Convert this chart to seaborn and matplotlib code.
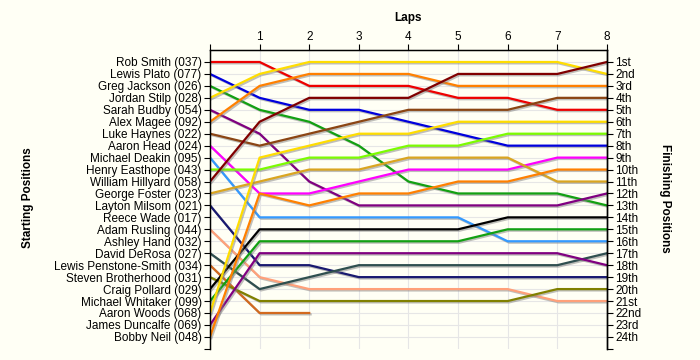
import pandas as pd
import numpy as np
import matplotlib
matplotlib.use("Agg")
import matplotlib.pyplot as plt
import matplotlib.patheffects as pe
import seaborn as sns

# --- data ---
drivers = ["Rob Smith", "Lewis Plato", "Greg Jackson", "Jordan Stilp", "Sarah Budby",
           "Alex Magee", "Luke Haynes", "Aaron Head", "Michael Deakin", "Henry Easthope",
           "William Hillyard", "George Foster", "Layton Milsom", "Reece Wade", "Adam Rusling",
           "Ashley Hand", "David DeRosa", "Lewis Penstone-Smith", "Steven Brotherhood",
           "Craig Pollard", "Michael Whitaker", "Aaron Woods", "James Duncalfe", "Bobby Neil"]
car_numbers = ["037", "077", "026", "028", "054", "092", "022", "024", "095", "043", "058", "023",
               "021", "017", "044", "032", "027", "034", "031", "029", "099", "068", "069", "048"]
colors = ["#EE0000", "#0000DD", "#12A012", "#FFDD00", "#800080", "#FF8000", "#8B4513", "#FF00FF",
          "#3399FF", "#7CFC00", "#800000", "#DAA520", "#191970", "#000000", "#FFA07A", "#000000",
          "#2F4F4F", "#D2691E", "#808000", "#000000", "#12A012", "#FFDD00", "#800080", "#FF8000"]

N = None
# position of each driver (same order as drivers) at the end of each lap
lap0 = [1, 2, 3, 4, 5, 6, 7, 8, 9, 10, 11, 12, 13, N, 15, N, 17, 18, 19, 20, 21, 22, 23, 24]
lap1 = [1, 4, 5, 2, 7, 3, 8, 12, 14, 10, 6, 11, 18, N, 19, N, 20, 22, 21, 15, 16, 9, 17, 12]
lap2 = [3, 5, 6, 1, 11, 2, 7, 12, 14, 9, 4, 10, 18, N, 20, N, 19, 22, 21, 15, 16, 8, 17, 13]
lap3 = [3, 5, 8, 1, 13, 2, 6, 11, 14, 9, 4, 10, 19, N, 20, N, 18, N, 21, 15, 16, 7, 17, 12]
lap4 = [3, 6, 11, 1, 13, 2, 5, 10, 14, 8, 4, 9, 19, N, 20, N, 18, N, 21, 15, 16, 7, 17, 12]
lap5 = [4, 7, 12, 1, 13, 3, 5, 10, 14, 8, 2, 9, 19, N, 20, N, 18, N, 21, 15, 16, 6, 17, 11]
lap6 = [4, 8, 12, 1, 13, 3, 5, 10, 16, 7, 2, 9, 19, N, 20, N, 18, N, 21, 14, 15, 6, 17, 11]
lap7 = [5, 8, 12, 1, 13, 3, 4, 9, 16, 7, 2, 11, 19, N, 21, N, 18, N, 20, 14, 15, 6, 17, 10]
lap8 = [5, 8, 13, 2, 12, 3, 4, 9, 16, 7, 1, 11, 19, N, 21, N, 17, N, 20, 14, 15, 6, 18, 10]
laps = [lap0, lap1, lap2, lap3, lap4, lap5, lap6, lap7, lap8]

finish_labels = ["1st", "2nd", "3rd"] + [f"{i}th" for i in range(4, 21)] + ["21st", "22nd", "23rd", "24th"]

# long format table for seaborn
rows = []
for lap, positions in enumerate(laps):
    for i, pos in enumerate(positions):
        if pos is not None:
            rows.append({"driver": drivers[i], "lap": lap, "pos": pos})
df = pd.DataFrame(rows)
drawn = [d for d in drivers if d in set(df["driver"])]
palette = {d: colors[i] for i, d in enumerate(drivers)}

bg = "#FFFFF5"
plt.rcParams["font.family"] = ["Liberation Sans", "DejaVu Sans"]
fig = plt.figure(figsize=(7, 3.6), dpi=100, facecolor=bg)
ax = fig.add_axes([0.30, 0.031, 0.567, 0.830], facecolor=bg)

sns.lineplot(data=df, x="lap", y="pos", hue="driver", hue_order=drawn, palette=palette,
             estimator=None, sort=False, linewidth=1.6, legend=False, ax=ax)
for line in ax.lines:
    line.set_path_effects([pe.SimpleLineShadow(offset=(1, -1), shadow_color="#808080", alpha=0.5),
                           pe.Normal()])
    line.set_solid_joinstyle("round")

ax.set_xlim(0, 8)
ax.set_ylim(25, 0)

# grid
for x in range(1, 8):
    ax.axvline(x, color="#E6E6E6", lw=0.8, zorder=0)
for y in range(1, 25):
    ax.axhline(y, color="#E6E6E6", lw=0.8, zorder=0)

# top axis: laps
ax.xaxis.tick_top()
ax.xaxis.set_label_position("top")
ax.set_xticks(range(0, 9))
ax.set_xticklabels([""] + [str(i) for i in range(1, 9)])
ax.set_xlabel("Laps", fontsize=8.5, fontweight="bold", labelpad=7)

# left axis: starting grid
ax.set_yticks(range(1, 26))
ax.set_yticklabels([f"{d} ({n})" for d, n in zip(drivers, car_numbers)] + [""])
ax.set_ylabel("")
ax.tick_params(axis="both", labelsize=8.5, length=4, width=0.8, color="black", pad=2)
ax.tick_params(axis="x", pad=1)

for s in ["left", "right", "top"]:
    ax.spines[s].set_color("black")
    ax.spines[s].set_linewidth(1)
ax.spines["bottom"].set_visible(False)

# right axis: finishing positions
ax2 = ax.twinx()
ax2.set_ylim(25, 0)
ax2.set_yticks(range(1, 26))
ax2.set_yticklabels(finish_labels + [""])
ax2.tick_params(axis="y", labelsize=8.5, length=4, width=0.8, pad=2)
ax2.spines["bottom"].set_visible(False)
ax2.spines["right"].set_linewidth(1)

fig.text(0.040, 0.45, "Starting Positions", rotation=90, ha="center", va="center",
         fontsize=8.5, fontweight="bold")
fig.text(0.950, 0.45, "Finishing Positions", rotation=270, ha="center", va="center",
         fontsize=8.5, fontweight="bold")

fig.savefig("out.png", dpi=100, facecolor=bg)
